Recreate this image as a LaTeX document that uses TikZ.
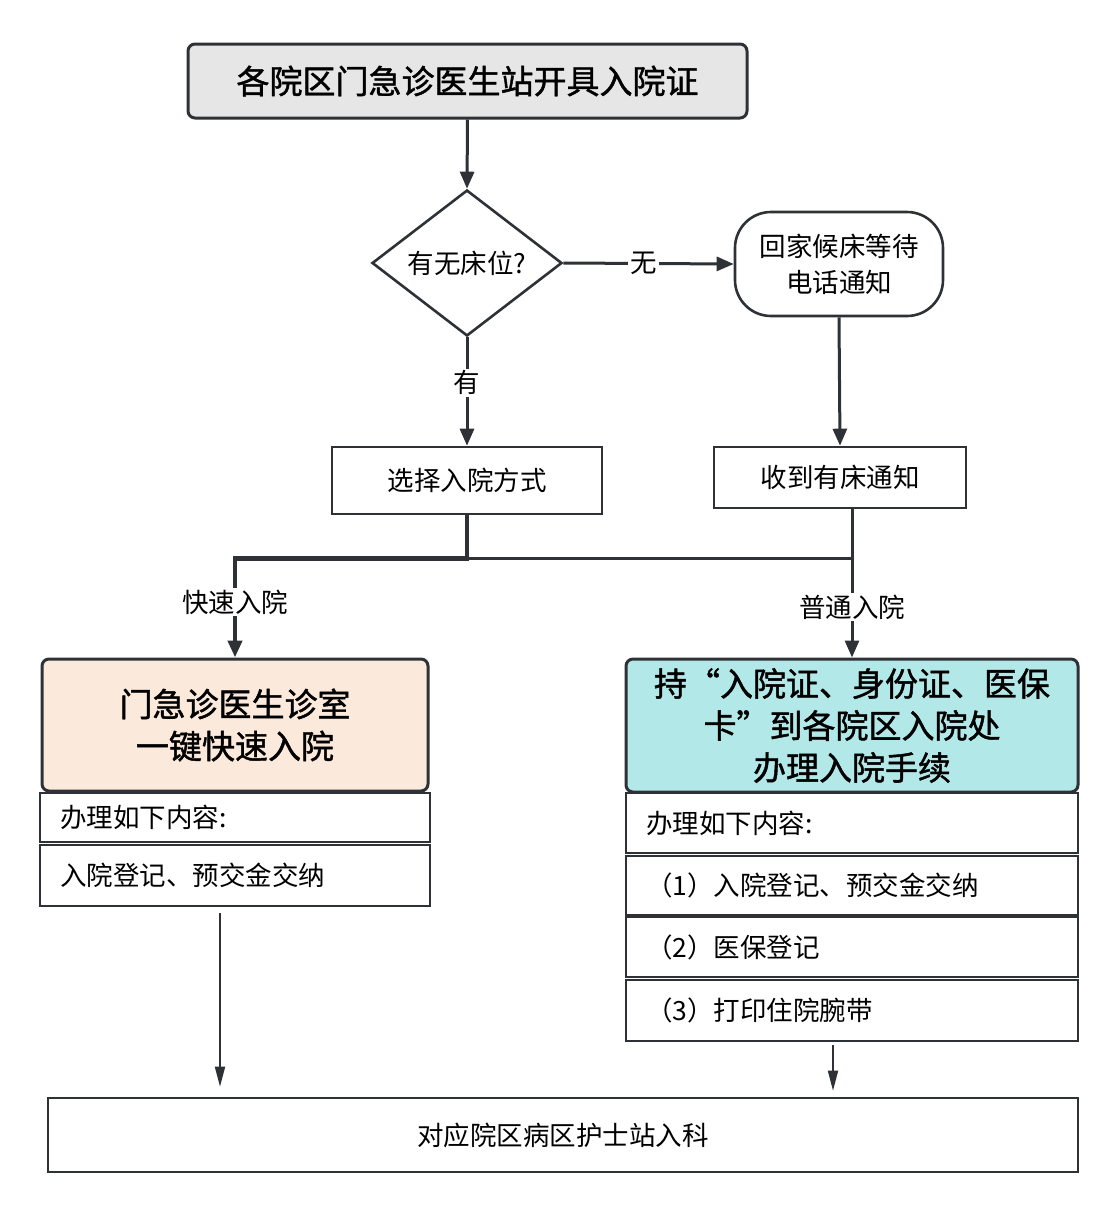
\documentclass[tikz,border=0pt]{standalone}
\usepackage{fontspec}
\setmainfont{Noto Sans CJK SC}
\newfontfamily\hfont[FakeBold=1.3]{Noto Sans CJK SC}
\usetikzlibrary{arrows.meta,shapes.geometric,calc}
\definecolor{ln}{HTML}{2E3236}
\definecolor{topgray}{HTML}{E6E6E6}
\definecolor{peach}{HTML}{FBE9DB}
\definecolor{teal}{HTML}{B3E8E8}
\begin{document}
\begin{tikzpicture}[x=1pt,y=-1pt,
  box/.style={draw=ln,line width=2.6pt,rectangle,inner sep=0pt,align=center,font=\fontsize{26.5}{34}\selectfont},
  headbox/.style={box,line width=3pt,rounded corners=7pt,font=\hfont\fontsize{33}{42}\selectfont},
  rowbox/.style={draw=ln,line width=2.6pt,rectangle,inner xsep=20pt,inner ysep=0pt,align=left,font=\fontsize{26.5}{34}\selectfont},
  conn/.style={draw=ln,line width=3pt,-{Triangle[length=17pt,width=14pt]}},
  thinconn/.style={draw=ln,line width=1.8pt,-{Triangle[length=20pt,width=10pt]}},
  lbl/.style={fill=white,inner sep=2pt,font=\fontsize{26.5}{30}\selectfont}
]
\useasboundingbox[fill=white] (0,0) rectangle (1116,1208);

\node[headbox,fill=topgray,minimum width=559pt,minimum height=74pt] (top) at (467.5,81) {各院区门急诊医生站开具入院证};
\node[box,diamond,minimum width=190pt,minimum height=146pt] (dia) at (467,263) {有无床位?};
\node[box,rounded corners=36pt,minimum width=208pt,minimum height=104pt,font=\fontsize{26.5}{36}\selectfont] (pill) at (839,264) {回家候床等待\\电话通知};
\node[box,minimum width=270pt,minimum height=67pt] (choose) at (467,480.5) {选择入院方式};
\node[box,minimum width=252pt,minimum height=61pt] (recv) at (840,477.5) {收到有床通知};

\node[headbox,fill=peach,minimum width=386pt,minimum height=132pt] (lh) at (235,725) {门急诊医生诊室\\一键快速入院};
\node[rowbox,text width=350pt,minimum height=49pt] (lr1) at (235,817.5) {办理如下内容:};
\node[rowbox,text width=350pt,minimum height=61pt] (lr2) at (235,875.5) {入院登记、预交金交纳};

\node[headbox,fill=teal,minimum width=452pt,minimum height=133pt] (rh) at (852,725.5) {持“入院证、身份证、医保\\卡”到各院区入院处\\办理入院手续};
\node[rowbox,text width=412pt,minimum height=60pt] (rr1) at (852,823) {办理如下内容:};
\node[rowbox,text width=412pt,minimum height=59pt] (rr2) at (852,885.5) {（1）入院登记、预交金交纳};
\node[rowbox,text width=412pt,minimum height=60pt] (rr3) at (852,947) {（2）医保登记};
\node[rowbox,text width=412pt,minimum height=61pt] (rr4) at (852,1010.5) {（3）打印住院腕带};

\node[box,minimum width=1030pt,minimum height=74pt] (bot) at (563,1135) {对应院区病区护士站入科};

\draw[conn] (top.south) -- (dia.north);
\draw[conn] (dia.east) -- node[lbl,pos=0.47]{无} (pill.west);
\draw[conn] (dia.south) -- node[lbl,pos=0.42]{有} (choose.north);
\draw[conn] (pill.south) -- (recv.north);

\coordinate (j) at ($(choose.south)+(0,43)$);
\draw[conn,line width=4.5pt] (choose.south) -- (j) -| node[lbl,pos=0.72]{快速入院} (lh.north);
\draw[draw=ln,line width=2.6pt] (j) -- (j -| rh.north);
\draw[conn] (recv.south -| rh.north) -- node[lbl,pos=0.66]{普通入院} (rh.north);

\draw[thinconn,shorten <=6pt,shorten >=10pt] ([xshift=-15pt]lr2.south) -- ([xshift=-15pt]lr2.south |- bot.north);
\draw[thinconn,shorten <=3pt,shorten >=6pt] ([xshift=-19pt]rr4.south) -- ([xshift=-19pt]rr4.south |- bot.north);
\end{tikzpicture}
\end{document}
